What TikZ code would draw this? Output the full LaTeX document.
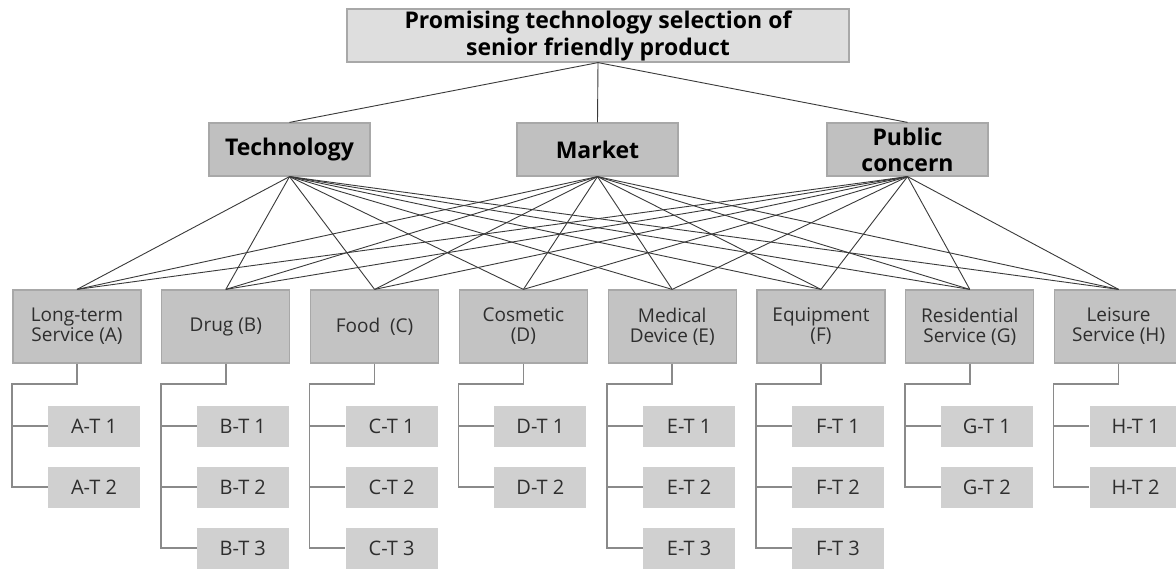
\documentclass[tikz,border=0pt]{standalone}
\usepackage{fontspec}
\setmainfont{Open Sans}
\definecolor{rootfill}{HTML}{DEDEDE}
\definecolor{boxline}{HTML}{A8A8A8}
\definecolor{critfill}{HTML}{C0C0C0}
\definecolor{catfill}{HTML}{C3C3C3}
\definecolor{leaffill}{HTML}{D0D0D0}
\definecolor{connline}{HTML}{3A3A3A}
\definecolor{treeline}{HTML}{8A8A8A}
\definecolor{cattext}{HTML}{2E2E2E}
\begin{document}
\begin{tikzpicture}[x=1pt,y=-1pt,
  rootbox/.style={draw=boxline, fill=rootfill, line width=1.2pt, minimum width=502pt, minimum height=53pt, inner sep=0pt, align=center, font=\fontsize{23}{27}\selectfont\bfseries},
  critbox/.style={draw=boxline, fill=critfill, line width=1.2pt, minimum width=161pt, minimum height=53pt, inner sep=0pt, align=center, font=\fontsize{23}{26}\selectfont\bfseries},
  catbox/.style={draw=boxline, fill=catfill, line width=1.2pt, minimum width=128pt, minimum height=73pt, inner sep=0pt, align=center, text=cattext, font=\fontsize{19}{20}\selectfont},
  leafbox/.style={draw=none, fill=leaffill, minimum width=92pt, minimum height=41pt, inner sep=0pt, text=cattext, font=\fontsize{20}{20}\selectfont},
  conn/.style={draw=connline, line width=0.9pt},
  tree/.style={draw=treeline, line width=1.5pt}
]
\useasboundingbox (0,0) rectangle (1176,568);
\fill[white] (0,0) rectangle (1176,568);

\node[rootbox] (root) at (598,35.5) {Promising technology selection of\\senior friendly product};
\node[critbox] (tech) at (289.5,149.5) {Technology};
\node[critbox] (market) at (597.5,149.5) {Market};
\node[critbox] (public) at (907.5,149.5) {Public\\concern};

\foreach \c in {tech,market,public}
  \draw[conn] (root.south) -- (\c.north);

\foreach \n/\lab/\k [count=\i from 0] in {A/{Long-term\\Service (A)}/2, B/{Drug (B)}/3, C/{Food\ \ (C)}/3, D/{Cosmetic\\(D)}/2, E/{Medical\\Device (E)}/3, F/{Equipment\\(F)}/3, G/{Residential\\Service (G)}/2, H/{Leisure\\Service (H)}/2}{
  \node[catbox] (\n) at ({77+148.8*\i},326.5) {\lab};
  \coordinate (trunk\n) at ({12+148.8*\i},384);
  \foreach \j in {1,...,\k}
    \node[leafbox] (leaf\n\j) at ({94+148.8*\i},{426+61*(\j-1)}) {\n-T \j};
  \draw[tree] (\n.south) |- (trunk\n) |- (leaf\n\k.west);
  \foreach \j in {1,...,\k}
    \draw[tree] (trunk\n |- leaf\n\j.west) -- (leaf\n\j.west);
}

\foreach \c in {tech,market,public}
  \foreach \n in {A,B,C,D,E,F,G,H}
    \draw[conn] (\c.south) -- (\n.north);
\end{tikzpicture}
\end{document}
